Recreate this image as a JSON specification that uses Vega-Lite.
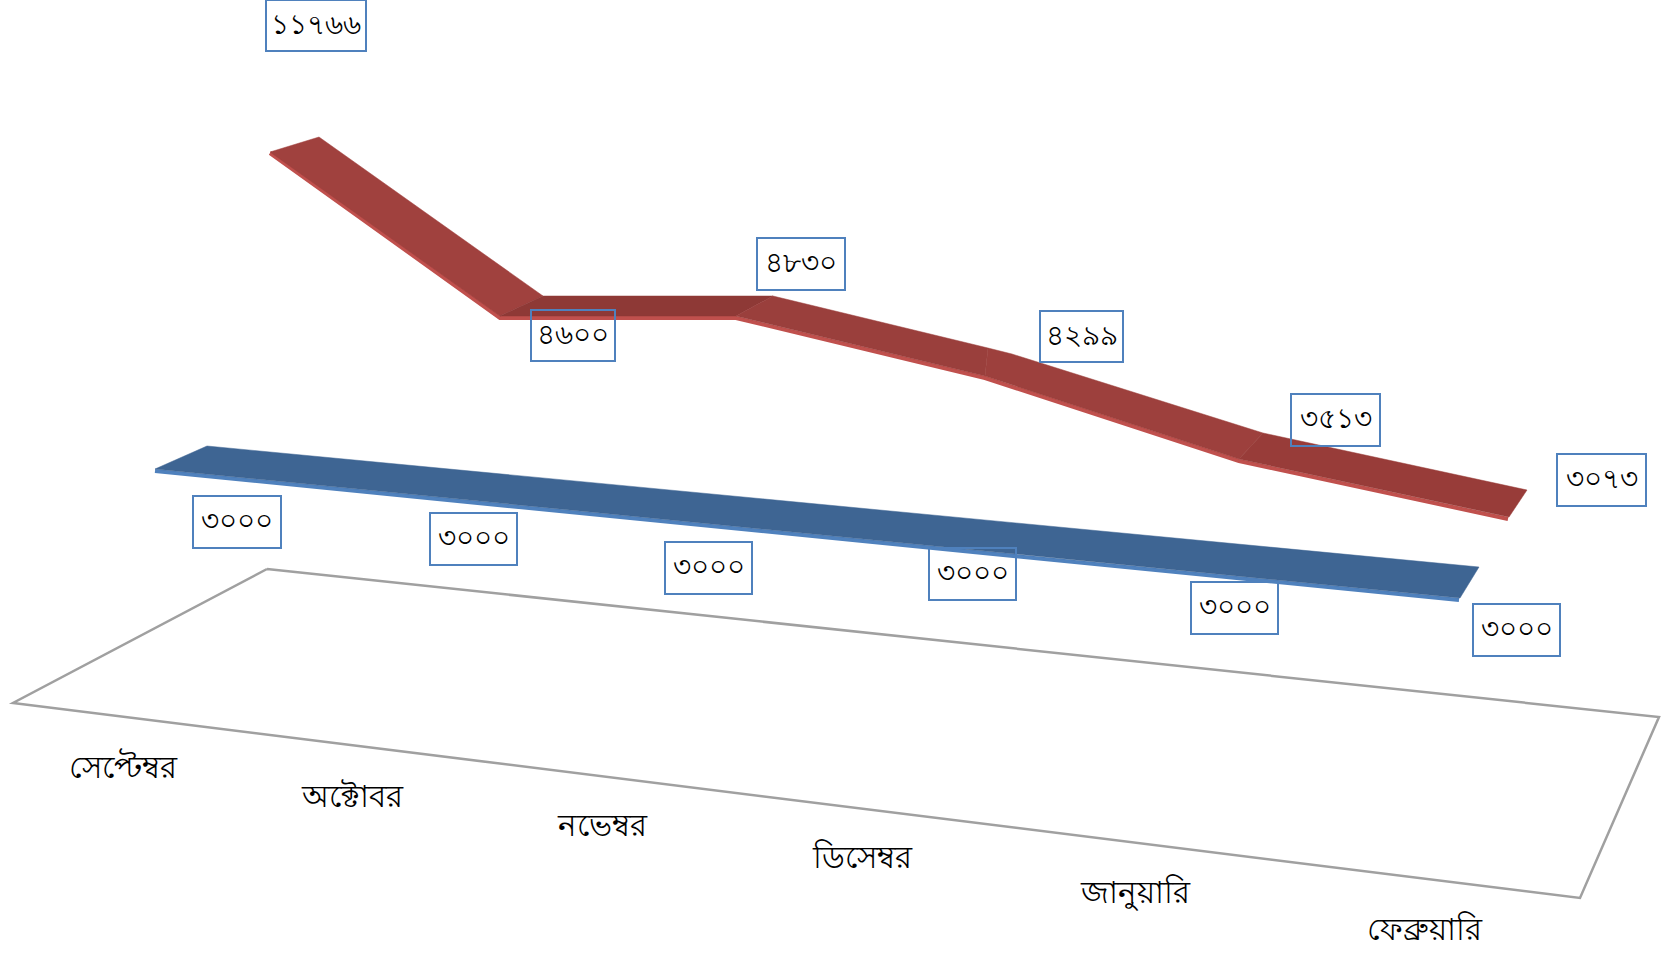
{"$schema":"https://vega.github.io/schema/vega-lite/v6.json","width":1661,"height":956,"padding":0,"autosize":"none","background":"white","view":{"stroke":null},
"datasets":{
"floor":[{"px":267,"py":569,"o":1},{"px":1659,"py":717,"o":2},{"px":1580,"py":898,"o":3},{"px":13,"py":703,"o":4},{"px":267,"py":569,"o":5}],
"ribbons":[
{"seg":"r1","px":319,"py":137,"o":1},{"seg":"r1","px":543,"py":296,"o":2},{"seg":"r1","px":500,"py":316,"o":3},{"seg":"r1","px":270,"py":152,"o":4},
{"seg":"r2","px":543,"py":296,"o":1},{"seg":"r2","px":773,"py":296,"o":2},{"seg":"r2","px":736,"py":316,"o":3},{"seg":"r2","px":500,"py":316,"o":4},
{"seg":"r3","px":773,"py":296,"o":1},{"seg":"r3","px":988,"py":348,"o":2},{"seg":"r3","px":985,"py":376,"o":3},{"seg":"r3","px":736,"py":316,"o":4},
{"seg":"r4","px":988,"py":348,"o":1},{"seg":"r4","px":1012,"py":354,"o":2},{"seg":"r4","px":1263,"py":433,"o":3},{"seg":"r4","px":1239,"py":459,"o":4},{"seg":"r4","px":985,"py":376,"o":5},
{"seg":"r5","px":1263,"py":433,"o":1},{"seg":"r5","px":1527,"py":490,"o":2},{"seg":"r5","px":1509,"py":517,"o":3},{"seg":"r5","px":1239,"py":459,"o":4},
{"seg":"b1","px":207,"py":446,"o":1},{"seg":"b1","px":1479,"py":567,"o":2},{"seg":"b1","px":1460,"py":598,"o":3},{"seg":"b1","px":155,"py":469,"o":4}],
"edges":[
{"ser":"red","px":270,"py":153,"o":1},{"ser":"red","px":500,"py":318,"o":2},{"ser":"red","px":736,"py":318,"o":3},{"ser":"red","px":985,"py":378,"o":4},{"ser":"red","px":1239,"py":461,"o":5},{"ser":"red","px":1508,"py":519,"o":6},
{"ser":"blue","px":155,"py":471,"o":1},{"ser":"blue","px":1459,"py":600,"o":2}],
"labels":[
{"t":"১১৭৬৬","x0":266,"x1":366,"y0":0,"y1":51},
{"t":"৪৬০০","x0":531,"x1":615,"y0":310,"y1":361},
{"t":"৪৮৩০","x0":757,"x1":845,"y0":238,"y1":290},
{"t":"৪২৯৯","x0":1040,"x1":1123,"y0":311,"y1":362},
{"t":"৩৫১৩","x0":1291,"x1":1380,"y0":394,"y1":446},
{"t":"৩০৭৩","x0":1557,"x1":1646,"y0":454,"y1":506},
{"t":"৩০০০","x0":193,"x1":281,"y0":496,"y1":548},
{"t":"৩০০০","x0":430,"x1":517,"y0":513,"y1":565},
{"t":"৩০০০","x0":665,"x1":752,"y0":542,"y1":594},
{"t":"৩০০০","x0":929,"x1":1016,"y0":548,"y1":600},
{"t":"৩০০০","x0":1191,"x1":1278,"y0":582,"y1":634},
{"t":"৩০০০","x0":1473,"x1":1560,"y0":604,"y1":656}],
"months":[
{"m":"সেপ্টেম্বর","px":123,"py":769},{"m":"অক্টোবর","px":352,"py":798},{"m":"নভেম্বর","px":602,"py":827},{"m":"ডিসেম্বর","px":862,"py":859},{"m":"জানুয়ারি","px":1135,"py":894},{"m":"ফেব্রুয়ারি","px":1424,"py":931}]
},
"layer":[
{"data":{"name":"floor"},"mark":{"type":"line","stroke":"#A0A0A0","strokeWidth":2.5,"strokeJoin":"miter"},
"encoding":{"x":{"field":"px","type":"quantitative","scale":{"domain":[0,1661],"nice":false,"zero":false},"axis":null},"y":{"field":"py","type":"quantitative","scale":{"domain":[956,0],"nice":false,"zero":false},"axis":null},"order":{"field":"o"}}},
{"data":{"name":"edges"},"mark":{"type":"line","strokeWidth":4,"strokeJoin":"miter"},
"encoding":{"x":{"field":"px","type":"quantitative","axis":null},"y":{"field":"py","type":"quantitative","axis":null},"order":{"field":"o"},"color":{"field":"ser","type":"nominal","legend":null,"scale":{"domain":["red","blue"],"range":["#C0504D","#4F81BD"]}}}},
{"data":{"name":"ribbons"},"mark":{"type":"line","filled":true,"strokeWidth":0.5,"interpolate":"linear-closed"},
"encoding":{"x":{"field":"px","type":"quantitative","axis":null},"y":{"field":"py","type":"quantitative","axis":null},"order":{"field":"o"},"detail":{"field":"seg"},
"fill":{"field":"seg","type":"nominal","legend":null,"scale":{"domain":["r1","r2","r3","r4","r5","b1"],"range":["#A0413E","#8E3936","#9A3F3C","#9D403D","#983C39","#3E6593"]}},
"stroke":{"field":"seg","type":"nominal","legend":null,"scale":{"domain":["r1","r2","r3","r4","r5","b1"],"range":["#A0413E","#8E3936","#9A3F3C","#9D403D","#983C39","#3E6593"]}}}},
{"data":{"name":"labels"},"mark":{"type":"rect","filled":false,"stroke":"#4F81BD","strokeWidth":2},
"encoding":{"x":{"field":"x0","type":"quantitative","axis":null},"x2":{"field":"x1"},"y":{"field":"y0","type":"quantitative","axis":null},"y2":{"field":"y1"}}},
{"data":{"name":"labels"},"transform":[{"calculate":"(datum.x0+datum.x1)/2","as":"cx"},{"calculate":"(datum.y0+datum.y1)/2","as":"cy"}],"mark":{"type":"text","font":"Noto Sans","fontSize":28,"fontWeight":500,"color":"black","align":"center","baseline":"middle"},
"encoding":{"x":{"field":"cx","type":"quantitative","axis":null},"y":{"field":"cy","type":"quantitative","axis":null},"text":{"field":"t"}}},
{"data":{"name":"months"},"mark":{"type":"text","font":"Noto Sans","fontSize":31,"fontWeight":500,"color":"black","align":"center","baseline":"middle"},
"encoding":{"x":{"field":"px","type":"quantitative","axis":null},"y":{"field":"py","type":"quantitative","axis":null},"text":{"field":"m"}}}
]}
